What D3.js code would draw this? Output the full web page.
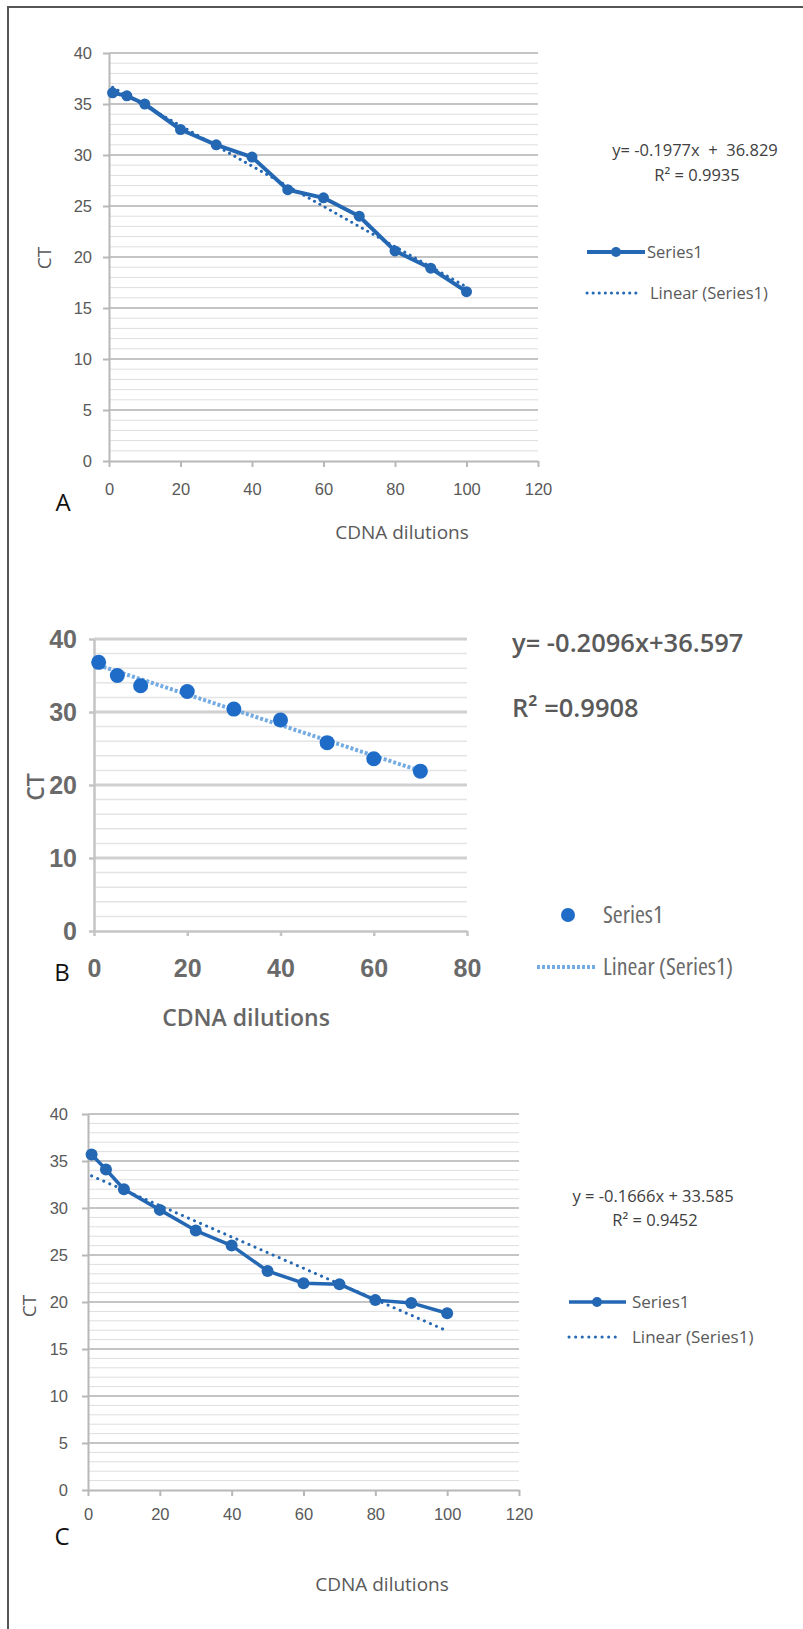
<!DOCTYPE html>
<html>
<head>
<meta charset="utf-8">
<script src="https://cdn.jsdelivr.net/npm/d3@7/dist/d3.min.js"></script>
<style>
body { margin: 0; background: #fff; }
svg { display: block; font-family: "Open Sans", sans-serif; }
.cond { font-stretch: 75%; }
</style>
</head>
<body>
<script>
// panel A
var dilutionsA = [1, 5, 10, 20, 30, 40, 50, 60, 70, 80, 90, 100];
var ctA = [36.1, 35.8, 35.0, 32.5, 31.0, 29.8, 26.6, 25.8, 24.0, 20.6, 18.9, 16.6];
var trendA = [-0.1977, 36.829];
var eqA = ["y= -0.1977x  +  36.829", "R\u00b2 = 0.9935"];
var xTicksA = [0, 20, 40, 60, 80, 100, 120];
var yTicksA = [0, 5, 10, 15, 20, 25, 30, 35, 40];

// panel B
var dilutionsB = [1, 5, 10, 20, 30, 40, 50, 60, 70];
var ctB = [36.8, 35.0, 33.6, 32.8, 30.4, 28.9, 25.8, 23.6, 21.9];
var trendB = [-0.2096, 36.597];
var eqB = ["y= -0.2096x+36.597", "R\u00b2 =0.9908"];
var xTicksB = [0, 20, 40, 60, 80];
var yTicksB = [0, 10, 20, 30, 40];

// panel C
var dilutionsC = [1, 5, 10, 20, 30, 40, 50, 60, 70, 80, 90, 100];
var ctC = [35.7, 34.1, 32.0, 29.8, 27.6, 26.0, 23.3, 22.0, 21.9, 20.2, 19.9, 18.8];
var trendC = [-0.1666, 33.585];
var eqC = ["y = -0.1666x + 33.585", "R\u00b2 = 0.9452"];
var xTicksC = [0, 20, 40, 60, 80, 100, 120];
var yTicksC = [0, 5, 10, 15, 20, 25, 30, 35, 40];

var seriesName = "Series1", trendName = "Linear (Series1)";
var xTitle = "CDNA dilutions", yTitle = "CT";

var blue = "#2467b3";

var svg = d3.select("body").append("svg")
  .attr("width", 803)
  .attr("height", 1629);

// frame round the figure
svg.append("path")
  .attr("d", "M8,1629V7H803")
  .attr("fill", "none")
  .attr("stroke", "#555")
  .attr("stroke-width", 2);

function panel(o) {
  var x = d3.scaleLinear().domain(d3.extent(o.xTicks)).range([o.left, o.right]);
  var y = d3.scaleLinear().domain(d3.extent(o.yTicks)).range([o.bottom, o.top]);
  var g = svg.append("g");
  var top = d3.max(o.yTicks);

  // minor grid
  g.selectAll(".minor")
    .data(d3.range(0, top, o.minor).filter(function(v) { return v % o.major != 0; }))
    .enter().append("line")
      .attr("x1", o.left).attr("x2", o.right)
      .attr("y1", function(d) { return y(d); })
      .attr("y2", function(d) { return y(d); })
      .attr("stroke", o.minorColor)
      .attr("stroke-width", o.minorWidth);

  // major grid
  g.selectAll(".major")
    .data(o.yTicks.filter(function(v) { return v > 0; }))
    .enter().append("line")
      .attr("x1", o.left).attr("x2", o.right)
      .attr("y1", function(d) { return y(d); })
      .attr("y2", function(d) { return y(d); })
      .attr("stroke", o.majorColor)
      .attr("stroke-width", o.majorWidth);

  var xa = g.append("g")
    .attr("transform", "translate(0," + o.bottom + ")")
    .call(d3.axisBottom(x).tickValues(o.xTicks).tickSize(o.tick).tickSizeOuter(0));
  var ya = g.append("g")
    .attr("transform", "translate(" + o.left + ",0)")
    .call(d3.axisLeft(y).tickValues(o.yTicks).tickSize(o.tick).tickSizeOuter(0));

  [xa, ya].forEach(function(a) {
    a.select(".domain").attr("stroke", o.axisColor).attr("stroke-width", o.axisWidth);
    a.selectAll(".tick line").attr("stroke", o.axisColor).attr("stroke-width", o.axisWidth);
    a.selectAll("text")
      .attr("fill", o.tickColor)
      .attr("font-family", null)
      .attr("font-size", o.tickSize)
      .attr("font-weight", o.tickWeight)
      .attr("class", o.cond ? "cond" : null);
  });
  xa.selectAll("text").attr("y", o.xLabelOff).attr("dy", "0.35em");
  ya.selectAll("text").attr("x", -o.yLabelOff).attr("dy", "0.35em");

  var pts = d3.zip(o.xs, o.ys);

  // trendline from the fitted equation
  var ends = d3.extent(o.xs);
  g.append("path")
    .datum(ends)
    .attr("d", d3.line()
      .x(function(d) { return x(d); })
      .y(function(d) { return y(o.trend[0] * d + o.trend[1]); }))
    .attr("fill", "none")
    .attr("stroke", o.trendColor)
    .attr("stroke-width", o.trendWidth)
    .attr("stroke-dasharray", o.dash)
    .attr("stroke-linecap", o.cap);

  if (o.line) {
    g.append("path")
      .datum(pts)
      .attr("d", d3.line().x(function(d) { return x(d[0]); }).y(function(d) { return y(d[1]); }))
      .attr("fill", "none")
      .attr("stroke", blue)
      .attr("stroke-width", o.lineWidth)
      .attr("stroke-linejoin", "round");
  }

  g.selectAll(".pt")
    .data(pts)
    .enter().append("circle")
      .attr("cx", function(d) { return x(d[0]); })
      .attr("cy", function(d) { return y(d[1]); })
      .attr("r", o.r)
      .attr("fill", o.ptColor);

  // axis titles and panel letter
  g.append("text")
    .attr("x", o.xTitle[0]).attr("y", o.xTitle[1])
    .attr("dy", "0.35em")
    .attr("text-anchor", "middle")
    .attr("font-size", o.titleSize)
    .attr("font-weight", o.titleWeight)
    .attr("fill", o.titleColor)
    .text(xTitle);
  g.append("text")
    .attr("transform", "translate(" + o.yTitle[0] + "," + o.yTitle[1] + ") rotate(-90)")
    .attr("dy", "0.35em")
    .attr("text-anchor", "middle")
    .attr("font-size", o.titleSize)
    .attr("font-weight", o.titleWeight)
    .attr("fill", o.titleColor)
    .text(yTitle);
  g.append("text")
    .attr("x", o.letter[0]).attr("y", o.letter[1])
    .attr("dy", "0.35em")
    .attr("text-anchor", "middle")
    .attr("font-size", 24)
    .attr("fill", "#111")
    .text(o.name);

  // equation
  g.selectAll(".eq")
    .data(o.eq)
    .enter().append("text")
      .attr("x", function(d, i) { return o.eqPos[i][0]; })
      .attr("y", function(d, i) { return o.eqPos[i][1]; })
      .attr("dy", "0.35em")
      .attr("text-anchor", o.eqAnchor)
      .attr("font-size", o.eqSize)
      .attr("font-weight", o.eqWeight)
      .attr("fill", o.eqColor)
      .style("white-space", "pre")
      .text(function(d) { return d; });

  // legend
  var L = o.legend;
  var s1 = g.append("g");
  if (o.line) {
    s1.append("line")
      .attr("x1", L.x0).attr("x2", L.x1).attr("y1", L.y0).attr("y2", L.y0)
      .attr("stroke", blue).attr("stroke-width", o.lineWidth);
  }
  s1.append("circle")
    .attr("cx", L.dot).attr("cy", L.y0).attr("r", L.r)
    .attr("fill", o.ptColor);
  s1.append("text")
    .attr("x", L.tx).attr("y", L.y0).attr("dy", "0.35em")
    .attr("font-size", L.size).attr("fill", o.tickColor)
    .attr("class", o.cond ? "cond" : null)
    .text(seriesName);
  g.append("line")
    .attr("x1", L.x0).attr("x2", L.x2).attr("y1", L.y1).attr("y2", L.y1)
    .attr("stroke", o.trendColor).attr("stroke-width", o.trendWidth)
    .attr("stroke-dasharray", o.dash).attr("stroke-linecap", o.cap);
  g.append("text")
    .attr("x", L.tx2).attr("y", L.y1).attr("dy", "0.35em")
    .attr("font-size", L.size).attr("fill", o.tickColor)
    .attr("class", o.cond ? "cond" : null)
    .text(trendName);
}

panel({
  name: "A", xs: dilutionsA, ys: ctA, trend: trendA, eq: eqA,
  xTicks: xTicksA, yTicks: yTicksA,
  left: 109, right: 538, top: 53, bottom: 461,
  minor: 1, major: 5, minorColor: "#dedede", minorWidth: 1, majorColor: "#c4c4c4", majorWidth: 2,
  axisColor: "#b8b8b8", axisWidth: 2, tick: 6,
  tickColor: "#595959", tickSize: 16.5, tickWeight: 400, xLabelOff: 28, yLabelOff: 17,
  line: true, lineWidth: 4, r: 5.5, ptColor: blue,
  trendColor: blue, trendWidth: 3, dash: "0.1,6", cap: "round",
  xTitle: [402, 532], yTitle: [44, 258], titleSize: 19, titleWeight: 400, titleColor: "#595959",
  letter: [63, 503],
  eqPos: [[695, 150], [697, 175]], eqAnchor: "middle", eqSize: 16.5, eqWeight: 400, eqColor: "#404040",
  legend: { x0: 587, x1: 645, x2: 637, dot: 616, r: 5, y0: 252, y1: 293, tx: 647, tx2: 650, size: 16.5 }
});

panel({
  name: "B", xs: dilutionsB, ys: ctB, trend: trendB, eq: eqB,
  xTicks: xTicksB, yTicks: yTicksB,
  left: 94, right: 467, top: 639, bottom: 931,
  minor: 2, major: 10, minorColor: "#e4e4e4", minorWidth: 1.5, majorColor: "#d0d0d0", majorWidth: 3,
  axisColor: "#c4c4c4", axisWidth: 2.5, tick: 5,
  tickColor: "#6a6a6a", tickSize: 25, tickWeight: 600, xLabelOff: 37, yLabelOff: 17, cond: true,
  line: false, r: 7.5, ptColor: "#1e6cc8",
  trendColor: "#74abe2", trendWidth: 4, dash: "3,2", cap: "butt",
  xTitle: [246, 1018], yTitle: [36, 787], titleSize: 23, titleWeight: 600, titleColor: "#666",
  letter: [62, 973],
  eqPos: [[512, 643], [512, 708]], eqAnchor: "start", eqSize: 25.5, eqWeight: 600, eqColor: "#5a5a5a",
  legend: { x0: 537, x1: 595, x2: 595, dot: 568, r: 7, y0: 915, y1: 967, tx: 603, tx2: 603, size: 24 }
});

panel({
  name: "C", xs: dilutionsC, ys: ctC, trend: trendC, eq: eqC,
  xTicks: xTicksC, yTicks: yTicksC,
  left: 88, right: 519, top: 1114, bottom: 1490,
  minor: 1, major: 5, minorColor: "#dedede", minorWidth: 1, majorColor: "#c4c4c4", majorWidth: 2,
  axisColor: "#b8b8b8", axisWidth: 2, tick: 6,
  tickColor: "#595959", tickSize: 16.5, tickWeight: 400, xLabelOff: 24, yLabelOff: 20,
  line: true, lineWidth: 3.5, r: 6, ptColor: blue,
  trendColor: blue, trendWidth: 3, dash: "0.1,6.5", cap: "round",
  xTitle: [382, 1584], yTitle: [29, 1306], titleSize: 19, titleWeight: 400, titleColor: "#595959",
  letter: [62, 1537],
  eqPos: [[653, 1196], [655, 1220]], eqAnchor: "middle", eqSize: 16.5, eqWeight: 400, eqColor: "#404040",
  legend: { x0: 569, x1: 626, x2: 619, dot: 597, r: 5, y0: 1302, y1: 1337, tx: 632, tx2: 632, size: 17 }
});
</script>
</body>
</html>
